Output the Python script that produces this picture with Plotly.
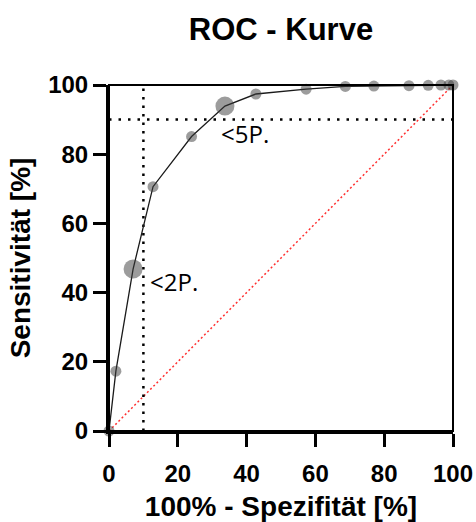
import plotly.graph_objects as go

# Data
fpr = [0, 2, 7, 12.8, 24, 33.7, 42.7, 57.3, 68.7, 77, 87.2, 92.8, 96.5, 98.8, 100]
tpr = [0, 17.3, 46.8, 70.6, 85.1, 93.9, 97.4, 98.8, 99.6, 99.7, 99.8, 99.9, 100, 100, 100]
marker_sizes = [11, 11, 19, 11, 11, 19, 11, 11, 11, 11, 11, 11, 11, 11, 11]

cut_x = 10      # vertical dotted reference
cut_y = 90      # horizontal dotted reference
diag = [0, 100]

labels = ["<2P.", "<5P."]
label_x = [11.3, 32.0]
label_y = [43.3, 86.0]

tickvals = [0, 20, 40, 60, 80, 100]

fig = go.Figure()

# diagonal
fig.add_trace(go.Scatter(x=diag, y=diag, mode="lines",
                         line=dict(color="#ff3030", width=1.5, dash="2px,2.5px"),
                         hoverinfo="skip", showlegend=False))
# horizontal & vertical dotted lines
fig.add_trace(go.Scatter(x=[0, 100], y=[cut_y, cut_y], mode="lines",
                         line=dict(color="black", width=2.5, dash="2.5px,7px"),
                         showlegend=False))
fig.add_trace(go.Scatter(x=[cut_x, cut_x], y=[0, 100], mode="lines",
                         line=dict(color="black", width=2.5, dash="2.5px,6px"),
                         showlegend=False))
# ROC curve
fig.add_trace(go.Scatter(x=fpr, y=tpr, mode="lines+markers",
                         line=dict(color="#1a1a1a", width=1.3),
                         marker=dict(size=marker_sizes, color="rgba(60,60,60,0.72)",
                                     line=dict(width=0)),
                         cliponaxis=False, showlegend=False))

for t, x, y in zip(labels, label_x, label_y):
    fig.add_annotation(x=x, y=y, text=t, showarrow=False, xanchor="left",
                       yanchor="middle",
                       font=dict(family="Open Sans", size=24, color="black"))

fig.add_shape(type="rect", xref="paper", yref="paper", x0=0, y0=0, x1=1, y1=1,
              line=dict(color="black", width=2), layer="above")

axis_common = dict(range=[0, 100], tickvals=tickvals, showgrid=False, zeroline=False,
                   showline=True, linecolor="black", linewidth=3, automargin=False,
                   ticks="outside", ticklen=13, tickwidth=3, tickcolor="black",
                   ticklabeloverflow="allow",
                   tickfont=dict(family="Liberation Sans", size=24, color="black",
                                 weight="bold"))

W, H = 476, 522
fig.update_layout(
    width=W, height=H,
    margin=dict(l=109, r=23, t=85, b=91),
    plot_bgcolor="white", paper_bgcolor="white",
    title=dict(text="ROC - Kurve", x=0.5, xref="paper", xanchor="center",
               y=1 - 29 / H, yanchor="middle",
               font=dict(family="Liberation Sans", size=31, color="black",
                         weight="bold")),
    xaxis=dict(**axis_common, ticklabelstandoff=6,
               title=dict(text="100% - Spezifität [%]", standoff=11,
                          font=dict(family="Liberation Sans", size=28,
                                    color="black", weight="bold"))),
    yaxis=dict(**axis_common,
               title=dict(text="Sensitivität [%]", standoff=10,
                          font=dict(family="Liberation Sans", size=28,
                                    color="black", weight="bold"))),
)

# remove the default page margin so the 476x522 figure fills the window exactly
fig.write_html("out.html",
               config={"displayModeBar": False},
               post_script="document.body.style.margin='0';"
                           "document.body.style.overflow='hidden';")
